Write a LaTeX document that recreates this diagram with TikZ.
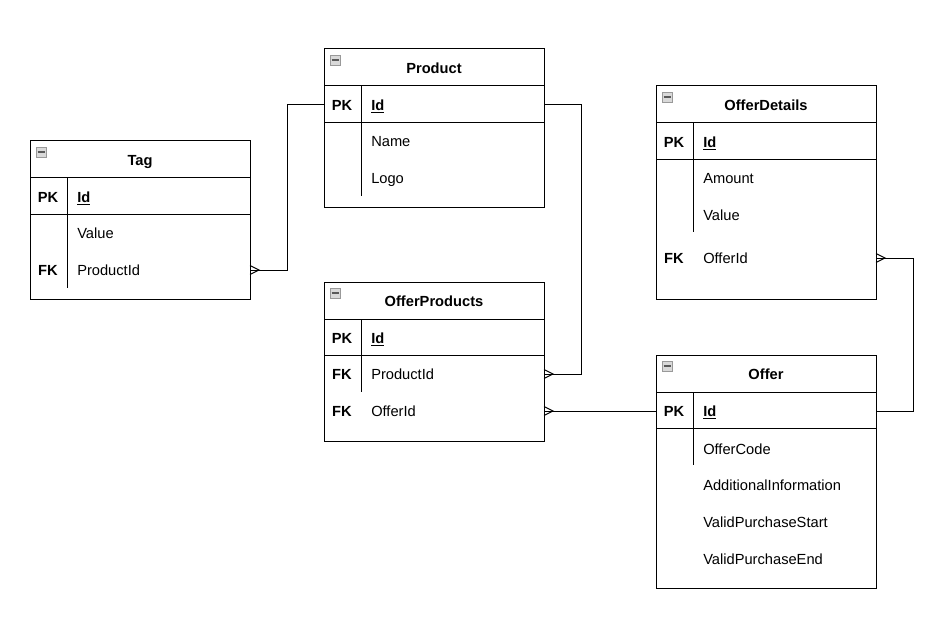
\documentclass[tikz,border=0pt]{standalone}
\usepackage{fontspec}
\setmainfont{Liberation Sans}
\usepackage{tikz}

\begin{document}
\begin{tikzpicture}[%%
  x=0.75pt,y=-0.75pt,%%
  tableStyle/.style={draw,line width=0.75pt,anchor=north west,minimum width=165pt,inner sep=0pt,outer sep=0pt},%%
  lineStyle/.style={-,line width=0.75pt},%%
  linkStyle/.style={-,line width=0.75pt},%%
  iconStyle/.style={draw=black!40,fill=black!15,line width=0.6pt},%%
  titleStyle/.style={font=\fontsize{11}{13}\selectfont\bfseries,text height=8pt,text depth=0pt},%%
  keyStyle/.style={font=\fontsize{11}{13}\selectfont\bfseries,text height=8pt,text depth=0pt},%%
  fieldStyle/.style={anchor=west,inner xsep=0pt,font=\fontsize{11}{13}\selectfont,text height=8pt,text depth=0pt}%%
]
%%
\useasboundingbox (0,0) rectangle (939,624);
%%
%% Frames of the tables: name/title/left/top/height/length of the key divider.
\foreach \tName/\tTitle/\tx/\ty/\tH/\dLen in {%%
    tag/Tag/30/141/158/110,%%
    product/Product/324/49/159/110,%%
    offerDetails/OfferDetails/656/86/213/109,%%
    offerProducts/OfferProducts/324/282/159/73,%%
    offer/Offer/656/355/233/73}{%%
  \node[tableStyle,minimum height=\tH*0.75pt] (\tName) at (\tx,\ty) {};
  \node[titleStyle] (\tName-title) at (\tx+110,\ty+19) {\tTitle};
  %% The collapse icon.
  \draw[iconStyle] (\tx+6,\ty+6) rectangle ++(10,10);
  \draw[line width=1.4pt,black!65] (\tx+7.5,\ty+11) -- ++(7,0);
  %% Header line, key row line and key divider.
  \draw[lineStyle] (\tx,\ty+37) -- ++(220,0);
  \draw[lineStyle] (\tx,\ty+73.5) -- ++(220,0);
  \draw[lineStyle] (\tx+37,\ty+37) -- ++(0,\dLen);
}
%%
%% Rows of Tag.
\node[keyStyle] (tagPk) at (48,197) {PK};
\node[fieldStyle] (tagId) at (77,197) {\textbf{\underline{Id}}};
\node[fieldStyle] (tagValue) at (77,233) {Value};
\node[keyStyle] (tagFkKey) at (48,270) {FK};
\node[fieldStyle] (tagProductId) at (77,270) {ProductId};
%%
%% Rows of Product.
\node[keyStyle] (productPk) at (342,105) {PK};
\node[fieldStyle] (productId) at (371,105) {\textbf{\underline{Id}}};
\node[fieldStyle] (productName) at (371,141) {Name};
\node[fieldStyle] (productLogo) at (371,178) {Logo};
%%
%% Rows of OfferDetails.
\node[keyStyle] (odPk) at (674,142) {PK};
\node[fieldStyle] (odId) at (703,142) {\textbf{\underline{Id}}};
\node[fieldStyle] (odAmount) at (703,178) {Amount};
\node[fieldStyle] (odValue) at (703,215) {Value};
\node[keyStyle] (odFkKey) at (674,258) {FK};
\node[fieldStyle] (odOfferId) at (703,258) {OfferId};
%%
%% Rows of OfferProducts.
\node[keyStyle] (opPk) at (342,338) {PK};
\node[fieldStyle] (opId) at (371,338) {\textbf{\underline{Id}}};
\node[keyStyle] (opFkProduct) at (342,374) {FK};
\node[fieldStyle] (opProductId) at (371,374) {ProductId};
\node[keyStyle] (opFkOffer) at (342,411) {FK};
\node[fieldStyle] (opOfferId) at (371,411) {OfferId};
%%
%% Rows of Offer.
\node[keyStyle] (offerPk) at (674,411) {PK};
\node[fieldStyle] (offerId) at (703,411) {\textbf{\underline{Id}}};
\node[fieldStyle] (offerCode) at (703,449) {OfferCode};
\node[fieldStyle] (offerInfo) at (703,485) {AdditionalInformation};
\node[fieldStyle] (offerStart) at (703,522) {ValidPurchaseStart};
\node[fieldStyle] (offerEnd) at (703,559) {ValidPurchaseEnd};
%%
%% Ends of the connectors.
\coordinate (tagFk) at (tag.east |- tagProductId);
\coordinate (productPkEnd) at (product.west |- productId);
\coordinate (productPkOut) at (product.east |- productId);
\coordinate (opProductFk) at (offerProducts.east |- opProductId);
\coordinate (opOfferFk) at (offerProducts.east |- opOfferId);
\coordinate (offerPkIn) at (offer.west |- offerId);
\coordinate (offerPkOut) at (offer.east |- offerId);
\coordinate (odOfferFk) at (offerDetails.east |- odOfferId);
%%
%% Connectors.
\draw[linkStyle] (tagFk) -- ++(37,0) |- (productPkEnd);
\draw[linkStyle] (productPkOut) -- ++(37,0) |- (opProductFk);
\draw[linkStyle] (opOfferFk) -- (offerPkIn);
\draw[linkStyle] (offerPkOut) -- ++(37,0) |- (odOfferFk);
%%
%% Crow's feet on the many side.
\foreach \endName in {tagFk,opProductFk,opOfferFk,odOfferFk}
  \draw[linkStyle] (\endName) ++(0,-4.5) -- ++(9,4.5) -- ++(-9,4.5);
\end{tikzpicture}
\end{document}
